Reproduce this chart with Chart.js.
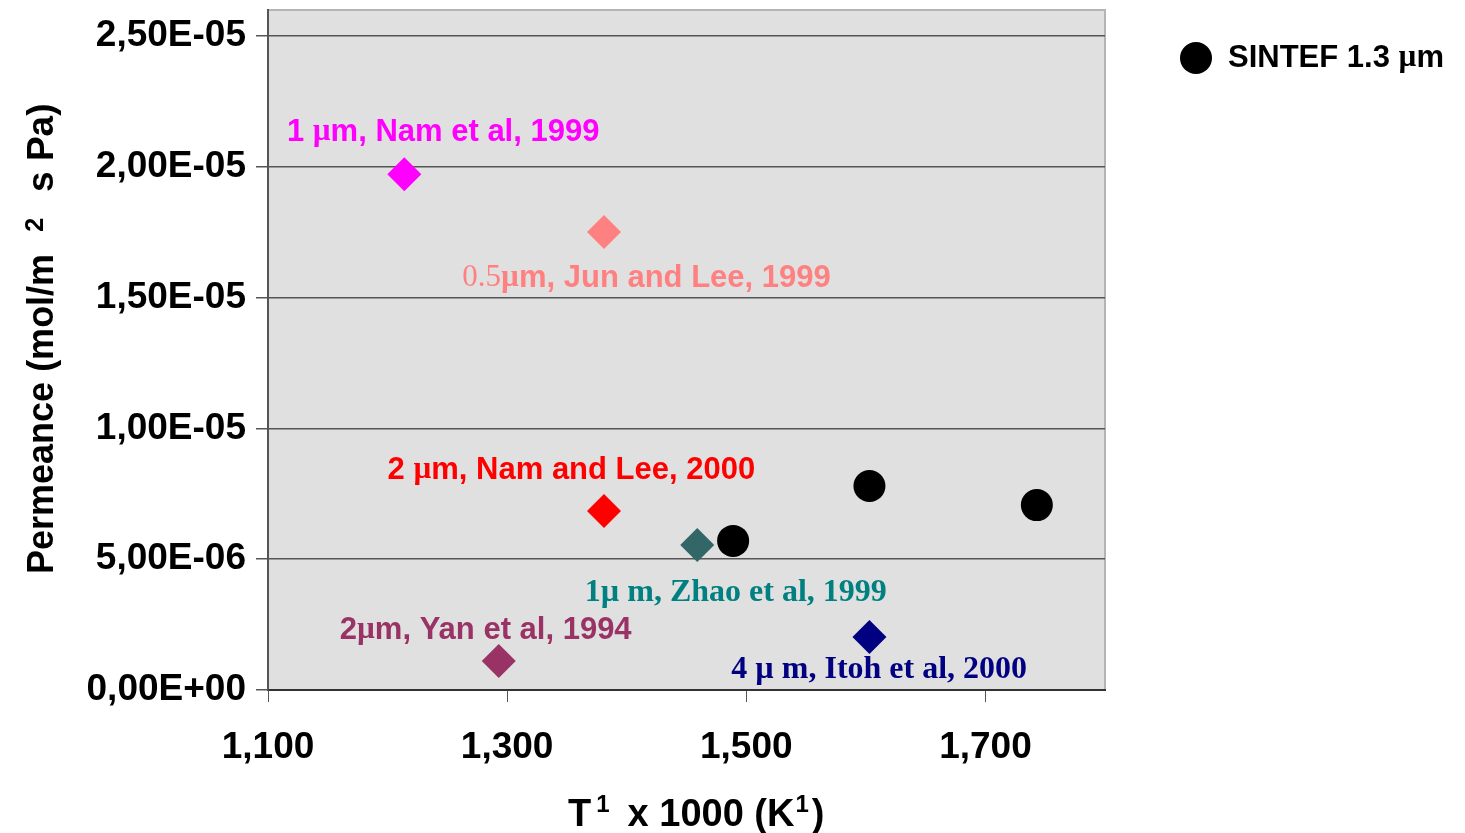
<!DOCTYPE html>
<html>
<head>
<meta charset="utf-8">
<script src="https://cdn.jsdelivr.net/npm/chart.js@4.4.0/dist/chart.umd.min.js"></script>
<style>
  body { margin: 0; background: #fff; }
  #wrap { width: 1465px; height: 833px; position: relative; }
</style>
</head>
<body>
<div id="wrap"><canvas id="permChart"></canvas></div>
<script>
// axis ticks
const xTicks = [1100, 1300, 1500, 1700];
const yTicks = [0, 5e-6, 1e-5, 1.5e-5, 2e-5, 2.5e-5];

// SINTEF membranes
const sintefX = [1489, 1603, 1743];
const sintefY = [5.70e-6, 7.80e-6, 7.07e-6];

// literature points, one per reference
const litNames = ['Nam et al, 1999', 'Jun and Lee, 1999', 'Nam and Lee, 2000', 'Zhao et al, 1999', 'Yan et al, 1994', 'Itoh et al, 2000'];
const litX = [1214, 1381, 1381, 1459, 1293, 1603];
const litY = [1.972e-5, 1.751e-5, 6.84e-6, 5.54e-6, 1.11e-6, 2.03e-6];
const litColors = ['#FF00FF', '#FF8080', '#FF0000', '#336666', '#993366', '#000080'];

const SANS = '"Liberation Sans", Arial, sans-serif';
const SERIF = '"Liberation Serif", "Times New Roman", serif';

// text next to each literature point: anchor (data units) + rich segments
const litLabels = [
    { x: 1115.8, y: 2.133e-5, color: '#FF00FF', segs: [['1 ', SANS], ['\u00b5', SERIF], ['m, Nam et al, 1999', SANS]] },
    { x: 1262.5, y: 1.575e-5, color: '#FF8080', segs: [['0.5', SERIF, 'normal'], ['\u00b5', SERIF], ['m, Jun and Lee, 1999', SANS]] },
    { x: 1200, y: 8.41e-6, color: '#FF0000', segs: [['2 ', SANS], ['\u00b5', SERIF], ['m, Nam and Lee, 2000', SANS]] },
    { x: 1365, y: 3.71e-6, color: '#008080', segs: [['1\u00b5 m, Zhao et al, 1999', SERIF, 'bold', 32]] },
    { x: 1160, y: 2.29e-6, color: '#993366', segs: [['2', SANS], ['\u00b5', SERIF], ['m, Yan et al, 1994', SANS]] },
    { x: 1487.5, y: 7.6e-7, color: '#000080', segs: [['4 \u00b5 m, Itoh et al, 2000', SERIF, 'bold', 32]] }
];

function drawRich(ctx, x, y, segs, size, color) {
    ctx.fillStyle = color;
    ctx.textAlign = 'left';
    let cx = x;
    segs.forEach(s => {
        const weight = s[2] || 'bold';
        const sz = s[3] || size;
        const dy = s[4] || 0;
        ctx.font = weight + ' ' + sz + 'px ' + s[1];
        ctx.fillText(s[0], cx, y + dy);
        cx += ctx.measureText(s[0]).width + (s[5] || 0);
    });
    return cx;
}

function fmtSci(v) {
    const parts = v.toExponential(2).split('e');
    const mant = parts[0].replace('.', ',');
    let exp = parseInt(parts[1], 10);
    const sign = exp < 0 ? '-' : '+';
    exp = Math.abs(exp);
    return mant + 'E' + sign + (exp < 10 ? '0' + exp : '' + exp);
}

const plotBg = {
    id: 'plotBg',
    beforeDraw(chart) {
        const { ctx, chartArea: a } = chart;
        ctx.save();
        ctx.fillStyle = '#E0E0E0';
        ctx.fillRect(a.left, a.top, a.right - a.left, a.bottom - a.top);
        ctx.strokeStyle = '#B4B4B4';
        ctx.lineWidth = 2;
        ctx.beginPath();
        ctx.moveTo(a.left, a.top);
        ctx.lineTo(a.right, a.top);
        ctx.lineTo(a.right, a.bottom);
        ctx.stroke();
        ctx.restore();
    }
};

const extras = {
    id: 'extras',
    afterDraw(chart) {
        const { ctx, chartArea: a } = chart;
        const xs = chart.scales.x, ys = chart.scales.y;
        ctx.save();
        ctx.textBaseline = 'middle';

        // point labels
        litLabels.forEach(l => {
            drawRich(ctx, xs.getPixelForValue(l.x), ys.getPixelForValue(l.y), l.segs, 31, l.color);
        });

        // legend
        const lx = a.right + 91, ly = a.top + 48;
        ctx.fillStyle = '#000';
        ctx.beginPath();
        ctx.arc(lx, ly, 16, 0, Math.PI * 2);
        ctx.fill();
        drawRich(ctx, lx + 32, ly, [['SINTEF 1.3 ', SANS], ['\u00b5', SERIF], ['m', SANS]], 31, '#000');

        // x title
        ctx.textBaseline = 'alphabetic';
        drawRich(ctx, a.left + 300, 826, [
            ['T', SANS, 'bold', 38, 0, 5],
            ['1', SANS, 'bold', 24, -14, 18],
            ['x 1000 (K', SANS, 'bold', 38, 0, 1],
            ['1', SANS, 'bold', 24, -14, 3],
            [')', SANS, 'bold', 38, 0]
        ], 38, '#000');

        // y title
        ctx.translate(53, 574);
        ctx.rotate(-Math.PI / 2);
        drawRich(ctx, 0, 0, [
            ['Permeance (mol/m', SANS, 'bold', 36, 0, 22],
            ['2', SANS, 'bold', 25, -10, 26],
            ['s Pa)', SANS, 'bold', 37, 0]
        ], 36, '#000');
        ctx.restore();
    }
};

const datasets = [{
    label: 'SINTEF 1.3 \u00b5m',
    data: sintefX.map((x, i) => ({ x: x, y: sintefY[i] })),
    backgroundColor: '#000',
    pointStyle: 'circle',
    pointRadius: 16,
    pointBorderWidth: 0
}];
litNames.forEach((name, i) => {
    datasets.push({
        label: name,
        data: [{ x: litX[i], y: litY[i] }],
        backgroundColor: litColors[i],
        pointStyle: 'rectRot',
        pointRadius: 17,
        pointBorderWidth: 0
    });
});

new Chart(document.getElementById('permChart'), {
    type: 'scatter',
    data: { datasets: datasets },
    options: {
        responsive: true,
        maintainAspectRatio: false,
        devicePixelRatio: 1,
        animation: false,
        layout: { autoPadding: false, padding: { top: 10, right: 360, left: 0, bottom: 0 } },
        plugins: {
            legend: { display: false },
            tooltip: { enabled: false }
        },
        scales: {
            x: {
                type: 'linear',
                min: 1100,
                max: 1800,
                afterBuildTicks: s => { s.ticks = xTicks.map(v => ({ value: v })); },
                afterFit: s => { s.height = 143; s.paddingLeft = 0; s.paddingRight = 0; },
                grid: { drawOnChartArea: false, tickLength: 12, color: '#555' },
                border: { color: '#333', width: 2 },
                ticks: {
                    color: '#000',
                    padding: 24,
                    maxRotation: 0,
                    font: { family: SANS, size: 37, weight: 'bold' },
                    callback: v => v.toLocaleString('en-US')
                }
            },
            y: {
                type: 'linear',
                min: 0,
                max: 2.6e-5,
                afterBuildTicks: s => { s.ticks = yTicks.map(v => ({ value: v })); },
                afterFit: s => { s.width = 268; s.paddingTop = 0; s.paddingBottom = 0; },
                grid: { tickLength: 12, color: '#555', lineWidth: 1.5 },
                border: { color: '#555', width: 2 },
                ticks: {
                    color: '#000',
                    padding: 10,
                    font: { family: SANS, size: 37, weight: 'bold' },
                    callback: v => fmtSci(v)
                }
            }
        }
    },
    plugins: [plotBg, extras]
});
</script>
</body>
</html>
